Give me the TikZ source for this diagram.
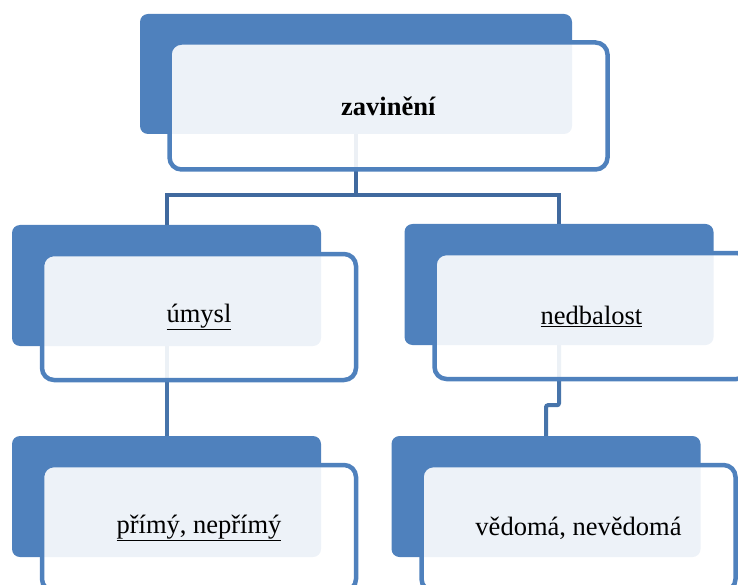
\documentclass[tikz,border=0pt]{standalone}
\usepackage{fontspec}
\setmainfont{Liberation Serif}
\usetikzlibrary{backgrounds}
\definecolor{B}{RGB}{79,129,189}
\definecolor{L}{RGB}{64,105,158}
\def\Xsize{738}
\def\Ysize{585}

\begin{document}
\begin{tikzpicture}[x=1pt,y=-1pt,
    back/.style={fill=B,rounded corners=8pt,inner sep=0pt,minimum width=309pt,minimum height=121pt},
    front/.style={draw=B,line width=4.5pt,fill=white,fill opacity=0.9,text opacity=1,rounded corners=12pt,
        inner sep=0pt,minimum width=314pt,minimum height=126pt,font=\fontsize{26.5}{32}\selectfont},
    link/.style={L,line width=4pt},
    sublink/.style={B!90!black,line width=4pt}]
    \path[use as bounding box] (0,0) rectangle (\Xsize,\Ysize);
    \clip (0,0) rectangle (\Xsize,\Ysize);
    % back boxes
    \node[back,minimum width=432pt,minimum height=120pt] (zavB) at (356,74) {};
    \node[back] (umyB) at (166.5,285.5) {};
    \node[back] (nedB) at (559,284.5) {};
    \node[back] (primB) at (166.5,496.5) {};
    \node[back] (vedB) at (546,496.5) {};
    % front boxes
    \node[front,minimum width=438pt,minimum height=127pt] (zav) at ([shift={(32.5,32)}]zavB) {\textbf{zavinění}};
    \node[front] (umy) at ([shift={(32.5,31.5)}]umyB) {\underline{úmysl}};
    \node[front] (ned) at ([shift={(32.5,31.5)}]nedB) {\underline{nedbalost}};
    \node[front] (prim) at ([shift={(32.5,31.5)}]primB) {\underline{přímý, nepřímý}};
    \node[front] (ved) at ([shift={(32.5,31.5)}]vedB) {vědomá, nevědomá};
    % connectors
    \begin{scope}[on background layer]
        \path (zavB.south) ++(0,61) coordinate (zavfork);
        \draw[link] (zavB.south) -- (zavfork) -| (umyB.north);
        \draw[link] (zavfork) -| (nedB.north);
        \draw[sublink] (umyB.south) -- (primB.north);
        \draw[sublink,rounded corners=2pt] (nedB.south) -- ++(0,60) -| (vedB.north);
    \end{scope}
\end{tikzpicture}
\end{document}
